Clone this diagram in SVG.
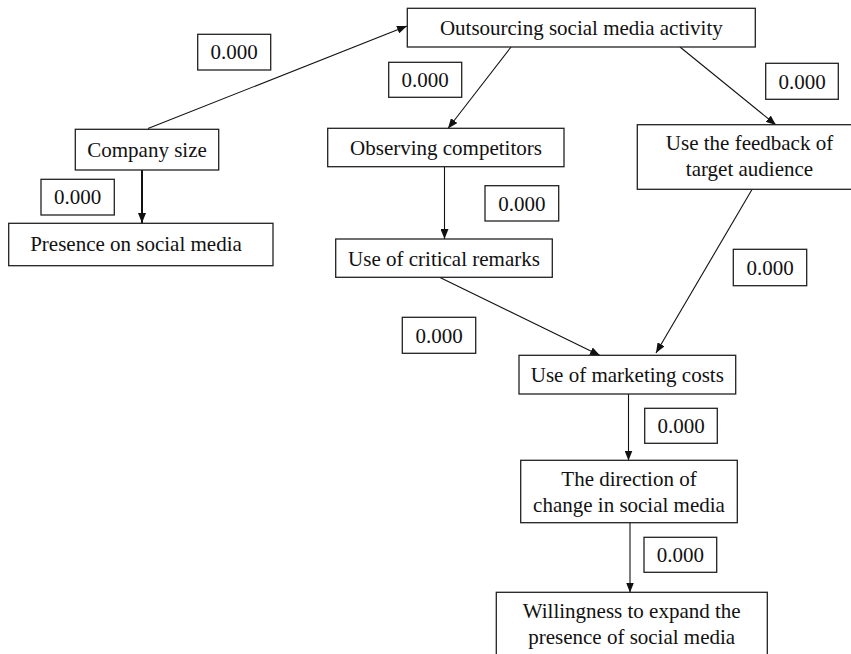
<svg xmlns="http://www.w3.org/2000/svg" width="851" height="654" viewBox="0 0 851 654">
<style>
.n rect{fill:#fff;stroke:#222;stroke-width:1.3}
.l rect{fill:#fff;stroke:#222;stroke-width:1.3}
text{font-family:'Liberation Serif',Tinos,'Noto Serif','DejaVu Serif',serif;font-size:21px;fill:#111;text-anchor:middle}
.c line{stroke:#111;stroke-width:1.1;marker-end:url(#ah)}
</style>
<defs>
<marker id="ah" markerUnits="userSpaceOnUse" markerWidth="10" markerHeight="8" refX="10" refY="4" orient="auto">
<path d="M0,0 L10,4 L0,8 z" fill="#111"/>
</marker>
</defs>
<rect width="851" height="654" fill="#fff"/>
<g id="connectors" class="c">
<line x1="148" y1="128.5" x2="407" y2="26"/>
<line x1="142" y1="170" x2="142" y2="223" style="stroke-width:2"/>
<line x1="511" y1="47" x2="448" y2="128.5"/>
<line x1="444.5" y1="167" x2="444.5" y2="239"/>
<line x1="680" y1="47" x2="776" y2="125"/>
<line x1="440" y1="277.5" x2="600" y2="355.5"/>
<line x1="752" y1="189.5" x2="656" y2="353"/>
<line x1="628.5" y1="394" x2="628.5" y2="460.5"/>
<line x1="630" y1="523" x2="630" y2="592.5"/>
</g>
<g font-family="Liberation Serif, serif">
<g id="outsourcing" class="n"><rect x="407.3" y="8.3" width="348" height="38.7"/><text x="581.3" y="34.5">Outsourcing social media activity</text></g>
<g id="company-size" class="n"><rect x="75.3" y="129.3" width="143.4" height="40.7"/><text x="147" y="156.5">Company size</text></g>
<g id="presence" class="n"><rect x="8.7" y="223.3" width="264.3" height="42.4"/><text x="136" y="251">Presence on social media</text></g>
<g id="observing" class="n"><rect x="327.7" y="128.3" width="236.3" height="38.4"/><text x="446" y="155">Observing competitors</text></g>
<g id="critical" class="n"><rect x="335.7" y="239" width="216.6" height="38.3"/><text x="444" y="265.5">Use of critical remarks</text></g>
<g id="feedback" class="n"><rect x="637.3" y="124.7" width="225" height="64.6"/><text x="749.5" y="150">Use the feedback of</text><text x="749.5" y="176">target audience</text></g>
<g id="marketing" class="n"><rect x="519" y="355.3" width="216.7" height="38.7"/><text x="627.3" y="381.5">Use of marketing costs</text></g>
<g id="direction" class="n"><rect x="520.7" y="460.3" width="216.6" height="62.4"/><text x="629" y="486">The direction of</text><text x="629" y="512">change in social media</text></g>
<g id="willingness" class="n"><rect x="496.3" y="592.3" width="271" height="70"/><text x="631.7" y="617.5">Willingness to expand the</text><text x="631.7" y="643.5">presence of social media</text></g>
<g id="labels" class="l">
<g id="lbl1"><rect x="197.7" y="34.3" width="73" height="35.7"/><text x="234.2" y="59">0.000</text></g>
<g id="lbl2"><rect x="41" y="179.3" width="73.3" height="35.7"/><text x="77.7" y="204">0.000</text></g>
<g id="lbl3"><rect x="388.7" y="62.3" width="73" height="35"/><text x="425.2" y="87">0.000</text></g>
<g id="lbl4"><rect x="485" y="185.7" width="73.7" height="35.3"/><text x="521.8" y="210.5">0.000</text></g>
<g id="lbl5"><rect x="765.7" y="63.3" width="72.6" height="36"/><text x="802" y="88.5">0.000</text></g>
<g id="lbl6"><rect x="733.3" y="249.3" width="73.4" height="36.4"/><text x="770" y="274.5">0.000</text></g>
<g id="lbl7"><rect x="402.3" y="317.3" width="73.4" height="36"/><text x="439" y="342.5">0.000</text></g>
<g id="lbl8"><rect x="644.7" y="408.3" width="72.6" height="35"/><text x="681" y="433">0.000</text></g>
<g id="lbl9"><rect x="644" y="537.3" width="72.7" height="35"/><text x="680.3" y="562">0.000</text></g>
</g>
</g>
</svg>
